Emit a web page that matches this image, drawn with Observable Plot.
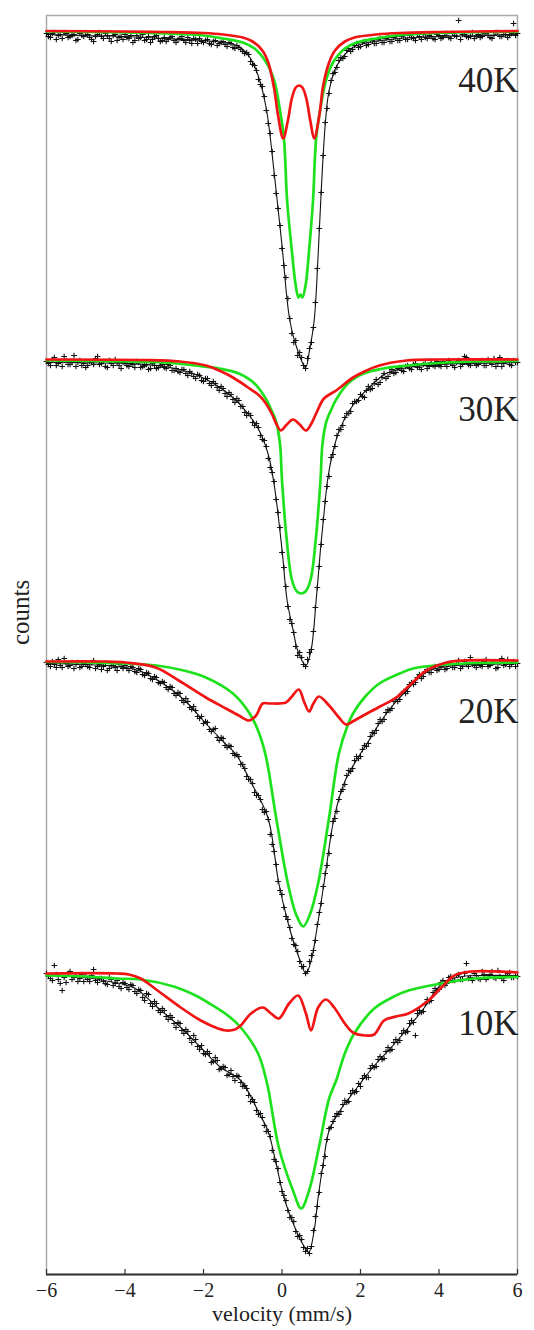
<!DOCTYPE html>
<html><head><meta charset="utf-8">
<script src="https://cdn.jsdelivr.net/npm/d3@7"></script>
<script src="https://cdn.jsdelivr.net/npm/@observablehq/plot@0.6"></script>
<style>
html,body{margin:0;padding:0;background:#fff}
#chart svg{display:block}
#chart svg, #chart svg text{font-family:'Liberation Serif','DejaVu Serif','Times New Roman',serif !important}
</style>
</head><body><div id="chart"></div>
<script>
// Temperatures and vertical offset (baseline) of each spectrum, in relative count units
const temps = ["40K", "30K", "20K", "10K"];
const baselines = [-0.15, -3.44, -6.46, -9.58];
const yBottom = -12.59;
const xTicks = [-6, -4, -2, 0, 2, 4, 6];

// velocity channels (mm/s): even channels and the interleaved odd channels
const vel = [-6.0,-5.9,-5.8,-5.7,-5.6,-5.5,-5.4,-5.3,-5.2,-5.1,
-5.0,-4.9,-4.8,-4.7,-4.6,-4.5,-4.4,-4.3,-4.2,-4.1,
-4.0,-3.9,-3.8,-3.7,-3.6,-3.5,-3.4,-3.3,-3.2,-3.1,
-3.0,-2.9,-2.8,-2.7,-2.6,-2.5,-2.4,-2.3,-2.2,-2.1,
-2.0,-1.9,-1.8,-1.7,-1.6,-1.5,-1.4,-1.3,-1.2,-1.1,
-1.0,-0.9,-0.8,-0.7,-0.6,-0.5,-0.4,-0.3,-0.2,-0.1,
0.0,0.1,0.2,0.3,0.4,0.5,0.6,0.7,0.8,0.9,
1.0,1.1,1.2,1.3,1.4,1.5,1.6,1.7,1.8,1.9,
2.0,2.1,2.2,2.3,2.4,2.5,2.6,2.7,2.8,2.9,
3.0,3.1,3.2,3.3,3.4,3.5,3.6,3.7,3.8,3.9,
4.0,4.1,4.2,4.3,4.4,4.5,4.6,4.7,4.8,4.9,
5.0,5.1,5.2,5.3,5.4,5.5,5.6,5.7,5.8,5.9,
6.0];
const velMid = [-5.95,-5.85,-5.75,-5.65,-5.55,-5.45,-5.35,-5.25,-5.15,-5.05,
-4.95,-4.85,-4.75,-4.65,-4.55,-4.45,-4.35,-4.25,-4.15,-4.05,
-3.95,-3.85,-3.75,-3.65,-3.55,-3.45,-3.35,-3.25,-3.15,-3.05,
-2.95,-2.85,-2.75,-2.65,-2.55,-2.45,-2.35,-2.25,-2.15,-2.05,
-1.95,-1.85,-1.75,-1.65,-1.55,-1.45,-1.35,-1.25,-1.15,-1.05,
-0.95,-0.85,-0.75,-0.65,-0.55,-0.45,-0.35,-0.25,-0.15,-0.05,
0.05,0.15,0.25,0.35,0.45,0.55,0.65,0.75,0.85,0.95,
1.05,1.15,1.25,1.35,1.45,1.55,1.65,1.75,1.85,1.95,
2.05,2.15,2.25,2.35,2.45,2.55,2.65,2.75,2.85,2.95,
3.05,3.15,3.25,3.35,3.45,3.55,3.65,3.75,3.85,3.95,
4.05,4.15,4.25,4.35,4.45,4.55,4.65,4.75,4.85,4.95,
5.05,5.15,5.25,5.35,5.45,5.55,5.65,5.75,5.85,5.95];

// measured absorption (depth below baseline) per channel
const counts40 = [0.03,0.07,0.02,0.05,0.08,0.03,0.06,0.04,0.09,0.05,
0.02,0.07,0.11,0.04,0.06,0.03,0.08,0.05,0.10,0.06,
0.04,0.08,0.12,0.05,0.07,0.10,0.06,0.09,0.05,0.11,
0.07,0.09,0.06,0.12,0.08,0.10,0.07,0.13,0.09,0.08,
0.12,0.09,0.14,0.10,0.13,0.11,0.16,0.13,0.18,0.17,
0.21,0.22,0.31,0.35,0.49,0.56,0.80,1.03,1.45,1.78,
2.18,2.47,2.88,3.12,3.25,3.27,3.38,3.18,2.97,2.38,
1.62,0.92,0.63,0.43,0.37,0.27,0.26,0.18,0.19,0.13,
0.16,0.11,0.14,0.10,0.13,0.08,0.12,0.07,0.11,0.06,
0.10,0.05,0.09,0.07,0.10,0.06,0.04,0.08,0.06,0.09,
0.05,0.07,0.03,0.08,0.05,-0.10,0.04,0.06,0.06,0.08,
0.04,0.06,0.03,0.07,0.05,0.02,0.06,0.04,0.05,-0.07,
0.03];
const countsMid40 = [0.06,0.03,0.09,0.04,0.02,0.07,0.05,0.10,0.03,0.06,
0.04,0.09,0.06,0.02,0.08,0.05,0.11,0.04,0.07,0.09,
0.07,0.05,0.10,0.08,0.04,0.09,0.12,0.06,0.08,0.10,
0.11,0.07,0.10,0.09,0.06,0.12,0.10,0.08,0.13,0.11,
0.10,0.13,0.11,0.15,0.12,0.14,0.12,0.17,0.15,0.19,
0.23,0.24,0.34,0.40,0.54,0.66,0.93,1.21,1.63,1.95,
2.35,2.68,3.03,3.10,3.22,3.35,3.28,3.12,2.72,1.98,
1.25,0.78,0.50,0.42,0.30,0.28,0.20,0.21,0.15,0.17,
0.12,0.15,0.10,0.13,0.09,0.12,0.08,0.11,0.07,0.10,
0.06,0.09,0.05,0.08,0.04,0.09,0.07,0.05,0.08,0.04,
0.08,0.05,0.07,0.03,0.06,0.09,0.04,0.07,0.02,0.06,
0.07,0.03,0.05,0.08,0.02,0.06,0.04,0.07,0.03,0.05];
const counts30 = [0.02,0.06,-0.02,0.04,0.07,0.01,0.05,-0.04,0.03,0.06,
0.08,0.02,0.05,-0.03,0.04,0.07,0.01,0.06,0.03,0.09,
0.03,0.07,0.05,0.02,0.08,0.06,0.10,0.04,0.09,0.06,
0.08,0.05,0.11,0.09,0.13,0.10,0.16,0.14,0.19,0.16,
0.22,0.19,0.26,0.24,0.31,0.29,0.37,0.35,0.43,0.41,
0.47,0.56,0.56,0.66,0.68,0.80,0.87,1.08,1.22,1.53,
1.93,2.27,2.60,2.73,2.96,2.98,3.07,2.93,2.72,2.28,
1.85,1.42,1.17,0.95,0.76,0.70,0.58,0.54,0.44,0.42,
0.35,0.38,0.27,0.29,0.20,0.23,0.14,0.17,0.10,0.13,
0.08,0.12,0.06,0.10,0.04,0.08,0.05,0.09,0.03,0.07,
0.06,0.02,0.07,0.04,0.08,0.01,0.05,-0.02,0.06,0.03,
0.05,0.01,0.06,0.03,-0.01,0.04,0.07,0.02,0.05,0.01,
0.03];
const countsMid30 = [0.04,0.00,0.06,0.02,-0.03,0.05,0.03,0.07,0.01,0.04,
0.06,0.03,-0.01,0.05,0.02,0.08,0.04,0.00,0.06,0.03,
0.06,0.04,0.08,0.03,0.07,0.05,0.09,0.06,0.08,0.05,
0.09,0.06,0.11,0.12,0.10,0.14,0.12,0.17,0.15,0.21,
0.19,0.24,0.22,0.28,0.27,0.34,0.33,0.40,0.39,0.47,
0.53,0.54,0.63,0.64,0.76,0.81,0.99,1.13,1.40,1.68,
2.08,2.47,2.64,2.87,2.93,3.05,3.00,2.90,2.48,2.07,
1.60,1.27,0.98,0.87,0.70,0.66,0.54,0.52,0.42,0.41,
0.37,0.31,0.30,0.24,0.25,0.18,0.19,0.13,0.14,0.09,
0.11,0.07,0.09,0.05,0.08,0.10,0.04,0.07,0.06,0.02,
0.07,0.04,0.01,0.06,0.03,0.07,-0.03,0.05,0.02,0.06,
0.02,0.06,0.00,0.05,0.07,-0.02,0.04,0.01,0.06,0.03];
const counts20 = [0.01,0.05,0.03,-0.02,0.06,0.02,0.04,0.07,0.01,0.05,
0.03,0.06,-0.01,0.05,0.08,0.02,0.07,0.04,0.09,0.05,
0.04,0.09,0.06,0.11,0.08,0.14,0.12,0.18,0.16,0.22,
0.21,0.28,0.26,0.34,0.32,0.41,0.40,0.48,0.49,0.57,
0.62,0.61,0.70,0.67,0.79,0.77,0.86,0.85,0.94,0.95,
1.03,1.15,1.18,1.31,1.34,1.48,1.50,1.73,1.90,2.20,
2.33,2.55,2.66,2.83,2.90,3.05,3.12,3.00,2.89,2.63,
2.42,2.12,1.92,1.60,1.50,1.30,1.23,1.09,1.07,0.95,
0.95,0.84,0.82,0.71,0.69,0.58,0.58,0.48,0.47,0.38,
0.38,0.30,0.30,0.21,0.21,0.13,0.15,0.08,0.11,0.05,
0.08,0.04,0.07,0.02,0.06,-0.01,0.05,0.03,-0.04,0.04,
0.02,0.05,-0.02,0.04,0.01,0.06,-0.03,0.03,0.05,0.00,
0.02];
const countsMid20 = [0.03,0.00,0.06,0.04,-0.03,0.05,0.01,0.03,0.06,0.02,
0.05,0.01,0.07,0.03,0.05,0.09,0.04,0.06,0.03,0.07,
0.07,0.05,0.10,0.07,0.13,0.11,0.17,0.15,0.21,0.20,
0.26,0.25,0.32,0.31,0.39,0.37,0.46,0.45,0.55,0.55,
0.60,0.68,0.68,0.76,0.76,0.84,0.84,0.92,0.93,1.03,
1.07,1.18,1.22,1.34,1.38,1.51,1.58,1.83,2.03,2.29,
2.46,2.58,2.77,2.84,3.00,3.05,3.10,2.94,2.79,2.51,
2.25,2.04,1.74,1.57,1.38,1.28,1.14,1.10,0.99,0.97,
0.88,0.85,0.75,0.72,0.62,0.60,0.51,0.49,0.40,0.40,
0.32,0.32,0.23,0.23,0.16,0.17,0.10,0.11,0.06,0.09,
0.05,0.08,0.03,0.06,0.02,0.07,0.00,0.05,0.03,0.06,
0.04,0.00,0.05,0.02,0.07,0.01,0.04,-0.02,0.03,0.05];
const counts10 = [0.00,0.05,-0.08,0.06,0.17,0.09,-0.02,0.04,0.08,0.01,
0.03,0.08,-0.04,0.09,0.05,0.10,0.04,0.12,0.07,0.15,
0.10,0.16,0.12,0.20,0.17,0.27,0.21,0.33,0.30,0.39,
0.37,0.46,0.44,0.54,0.50,0.60,0.58,0.69,0.66,0.76,
0.80,0.78,0.89,0.84,0.96,0.93,1.02,0.97,1.07,1.03,
1.13,1.15,1.28,1.29,1.41,1.44,1.58,1.63,1.86,1.95,
2.18,2.27,2.44,2.48,2.63,2.66,2.78,2.80,2.57,2.33,
2.00,1.83,1.55,1.48,1.40,1.38,1.27,1.28,1.17,1.18,
1.13,1.02,1.04,0.92,0.93,0.83,0.85,0.74,0.76,0.66,
0.67,0.57,0.58,0.47,0.62,0.37,0.38,0.26,0.27,0.15,
0.16,0.07,0.10,0.03,0.07,0.01,0.06,-0.10,0.04,0.00,
0.05,-0.02,0.06,0.01,0.04,-0.03,0.05,0.02,-0.01,0.04,
0.03];
const countsMid10 = [0.03,0.07,0.01,0.10,0.04,0.00,0.06,0.02,0.05,0.08,
0.06,0.02,0.07,0.05,0.08,0.11,0.06,0.10,0.13,0.09,
0.14,0.11,0.18,0.16,0.24,0.20,0.30,0.28,0.37,0.35,
0.43,0.42,0.50,0.49,0.57,0.56,0.65,0.62,0.73,0.72,
0.81,0.80,0.88,0.87,0.95,0.94,1.01,1.03,1.02,1.09,
1.12,1.22,1.26,1.37,1.40,1.52,1.58,1.77,1.88,2.09,
2.22,2.37,2.44,2.58,2.62,2.74,2.75,2.73,2.43,2.19,
1.92,1.66,1.54,1.43,1.41,1.31,1.29,1.20,1.19,1.10,
1.05,1.04,0.95,0.94,0.86,0.86,0.78,0.77,0.69,0.69,
0.60,0.59,0.50,0.49,0.40,0.39,0.30,0.28,0.19,0.17,
0.09,0.12,0.04,0.07,0.02,0.06,0.00,0.05,0.07,0.02,
0.06,0.01,0.04,-0.02,0.05,0.03,0.07,0.00,0.04,0.02];

// total fit (black), [velocity, depth]
const black40 = [[-6,0.04],[-5,0.05],[-4,0.06],[-3,0.08],[-2,0.1],[-1.5,0.12],[-1.1,0.16],[-0.8,0.28],[-0.6,0.46],[-0.4,0.78],[-0.2,1.42],[0,2.15],[0.2,2.9],[0.4,3.2],[0.6,3.37],[0.7,3.2],[0.82,2.9],[0.92,2.25],[1.0,1.6],[1.1,0.95],[1.2,0.6],[1.4,0.35],[1.8,0.17],[2.2,0.12],[3,0.08],[4,0.06],[5,0.05],[6,0.04]];
const black30 = [[-6,0.03],[-4,0.04],[-3,0.07],[-2.27,0.14],[-1.7,0.25],[-1.25,0.38],[-0.85,0.55],[-0.58,0.71],[-0.35,0.95],[-0.2,1.25],[0,1.9],[0.13,2.41],[0.28,2.7],[0.4,2.91],[0.61,3.06],[0.74,2.91],[0.87,2.41],[0.98,1.9],[1.08,1.5],[1.17,1.18],[1.3,0.92],[1.46,0.71],[1.7,0.52],[1.97,0.38],[2.3,0.25],[2.65,0.14],[3.2,0.08],[4,0.05],[6,0.03]];
const black20 = [[-6,0.02],[-5,0.03],[-4.2,0.05],[-3.65,0.09],[-3.2,0.18],[-2.78,0.29],[-2.4,0.42],[-1.94,0.62],[-1.5,0.8],[-1.17,0.93],[-0.8,1.2],[-0.36,1.56],[-0.08,2.22],[0.23,2.72],[0.45,2.98],[0.61,3.12],[0.75,2.98],[0.87,2.72],[1.07,2.22],[1.33,1.56],[1.6,1.2],[1.97,0.94],[2.2,0.8],[2.48,0.62],[2.8,0.45],[3.17,0.29],[3.5,0.16],[3.75,0.09],[4.2,0.05],[5,0.03],[6,0.02]];
const black10 = [[-6,0.02],[-5,0.04],[-4.4,0.08],[-3.78,0.14],[-3.17,0.34],[-2.58,0.54],[-2.07,0.74],[-1.56,0.94],[-1.05,1.07],[-0.58,1.4],[-0.36,1.57],[-0.15,1.9],[0.05,2.24],[0.36,2.57],[0.55,2.72],[0.68,2.79],[0.82,2.57],[0.92,2.24],[1.05,1.9],[1.2,1.57],[1.4,1.42],[1.6,1.3],[1.8,1.2],[2.09,1.05],[2.4,0.9],[2.78,0.74],[3.22,0.54],[3.63,0.34],[3.9,0.18],[4.14,0.08],[4.6,0.03],[5.2,0.02],[6,0.02]];

// first component (green)
const green40 = [[-6,0.01],[-4,0.02],[-3,0.03],[-2,0.05],[-1.5,0.08],[-1.0,0.12],[-0.7,0.18],[-0.4,0.32],[-0.2,0.5],[-0.05,0.8],[0.05,1.08],[0.13,1.7],[0.25,2.2],[0.35,2.55],[0.42,2.67],[0.47,2.64],[0.52,2.67],[0.6,2.55],[0.69,2.2],[0.79,1.7],[0.87,1.08],[0.97,0.8],[1.12,0.5],[1.3,0.32],[1.6,0.18],[1.9,0.12],[2.4,0.08],[2.9,0.05],[4,0.025],[6,0.012]];
const green30 = [[-6,0.01],[-4,0.02],[-3,0.03],[-2.2,0.06],[-1.6,0.09],[-1.1,0.14],[-0.7,0.24],[-0.4,0.4],[-0.3,0.48],[-0.15,0.62],[-0.05,0.85],[0.0,1.21],[0.12,1.8],[0.25,2.2],[0.38,2.32],[0.49,2.34],[0.6,2.32],[0.73,2.2],[0.86,1.8],[0.98,1.21],[1.03,0.85],[1.13,0.62],[1.28,0.48],[1.38,0.4],[1.68,0.24],[2.08,0.14],[2.58,0.09],[3.2,0.06],[4,0.035],[5,0.02],[6,0.015]];
const green20 = [[-6,0.005],[-5,0.01],[-4,0.02],[-3.2,0.04],[-2.5,0.09],[-1.94,0.16],[-1.25,0.32],[-0.84,0.51],[-0.6,0.7],[-0.41,0.95],[-0.15,1.56],[0.15,2.22],[0.35,2.52],[0.54,2.65],[0.72,2.52],[0.92,2.22],[1.2,1.56],[1.45,0.92],[1.68,0.63],[1.81,0.52],[2.1,0.36],[2.48,0.22],[3.0,0.12],[3.34,0.07],[4.2,0.03],[5,0.015],[6,0.01]];
const green10 = [[-6,0.02],[-5,0.03],[-4.2,0.05],[-3.6,0.06],[-2.76,0.13],[-2.2,0.22],[-1.89,0.29],[-1.38,0.42],[-1.05,0.54],[-0.61,0.8],[-0.38,1.1],[-0.08,1.74],[0.28,2.17],[0.49,2.35],[0.69,2.17],[0.94,1.74],[1.2,1.25],[1.38,1.07],[1.6,0.8],[1.84,0.6],[2.35,0.35],[2.8,0.24],[3.22,0.17],[4.06,0.1],[4.9,0.05],[6,0.035]];

// second component (red)
const red40 = [[-6,0.005],[-4,0.01],[-3,0.015],[-2,0.025],[-1.5,0.04],[-1.0,0.07],[-0.75,0.11],[-0.5,0.2],[-0.35,0.32],[-0.2,0.58],[-0.1,0.85],[0.03,1.08],[0.15,0.9],[0.25,0.68],[0.35,0.57],[0.43,0.55],[0.52,0.57],[0.62,0.68],[0.72,0.9],[0.82,1.08],[0.95,0.85],[1.05,0.55],[1.2,0.32],[1.35,0.2],[1.6,0.11],[1.85,0.07],[2.4,0.04],[3,0.025],[4,0.015],[6,0.005]];
const red30 = [[-6,0],[-3.5,0.005],[-2.6,0.02],[-1.94,0.06],[-1.6,0.11],[-1.25,0.18],[-0.9,0.27],[-0.58,0.36],[-0.41,0.44],[-0.25,0.55],[-0.15,0.64],[-0.03,0.71],[0.1,0.66],[0.28,0.6],[0.45,0.65],[0.61,0.71],[0.75,0.64],[0.87,0.54],[1.07,0.39],[1.38,0.31],[1.81,0.18],[2.1,0.12],[2.48,0.06],[3.17,0.01],[4,0],[6,0]];
const red20 = [[-6,0],[-4.5,0],[-3.98,0.01],[-3.22,0.06],[-2.63,0.19],[-1.94,0.36],[-1.43,0.47],[-1.1,0.54],[-0.84,0.59],[-0.66,0.54],[-0.49,0.42],[-0.3,0.42],[0.1,0.41],[0.23,0.36],[0.43,0.28],[0.56,0.4],[0.69,0.5],[0.8,0.42],[0.94,0.35],[1.2,0.44],[1.45,0.56],[1.63,0.63],[1.8,0.6],[2.07,0.54],[2.5,0.45],[2.91,0.36],[3.3,0.22],[3.68,0.09],[4.19,0.01],[4.6,-0.01],[6,-0.01]];
const red10 = [[-6,0],[-4.2,0],[-3.9,0.01],[-3.6,0.05],[-3.17,0.17],[-2.58,0.34],[-2.07,0.47],[-1.63,0.55],[-1.43,0.57],[-1.2,0.56],[-1.05,0.52],[-0.79,0.4],[-0.49,0.34],[-0.28,0.4],[-0.08,0.45],[0.18,0.3],[0.41,0.22],[0.61,0.4],[0.74,0.57],[0.92,0.34],[1.12,0.26],[1.33,0.34],[1.6,0.5],[1.81,0.59],[2.14,0.62],[2.35,0.61],[2.6,0.47],[2.9,0.43],[3.22,0.4],[3.73,0.27],[4.06,0.14],[4.39,0.02],[4.8,-0.02],[6,-0.01]];

// ---- build tables ----
const countsAll = [counts40, counts30, counts20, counts10];
const countsMidAll = [countsMid40, countsMid30, countsMid20, countsMid10];
const blackAll = [black40, black30, black20, black10];
const greenAll = [green40, green30, green20, green10];
const redAll = [red40, red30, red20, red10];

const points = [];
temps.forEach((t, i) => {
  vel.forEach((v, j) => points.push({t, v, y: baselines[i] - countsAll[i][j]}));
  velMid.forEach((v, j) => points.push({t, v, y: baselines[i] - countsMidAll[i][j]}));
});
const toRows = (all) => all.flatMap((arr, i) => arr.map(([v, d]) => ({t: temps[i], v, y: baselines[i] - d})));
const blackRows = toRows(blackAll);
const greenRows = toRows(greenAll);
const redRows = toRows(redAll);
const labelRows = temps.map((t, i) => ({t, v: 6, y: baselines[i] - 0.5}));

const serif = "Liberation Serif";

const chart = Plot.plot({
  width: 534,
  height: 1330,
  marginLeft: 46,
  marginRight: 17,
  marginTop: 15,
  marginBottom: 56,
  style: "background:#fff;color:#222;font-family:'Liberation Serif',serif;",
  x: {domain: [-6, 6], label: null},
  y: {domain: [yBottom, 0], axis: null},
  marks: [
    Plot.frame({stroke: "#aaa", strokeWidth: 1.5}),
    Plot.dot(points, {x: "v", y: "y", symbol: "plus", r: 2.0, stroke: "#111", strokeWidth: 1.1}),
    Plot.line(blackRows, {x: "v", y: "y", z: "t", stroke: "#111", strokeWidth: 1.1, curve: "catmull-rom"}),
    Plot.line(greenRows, {x: "v", y: "y", z: "t", stroke: "#1ee11e", strokeWidth: 2.7, curve: "catmull-rom"}),
    Plot.line(redRows, {x: "v", y: "y", z: "t", stroke: "#f01414", strokeWidth: 2.7, curve: "catmull-rom"}),
    Plot.text(labelRows, {x: "v", y: "y", text: "t", textAnchor: "end", fontSize: 35, fontFamily: serif, fill: "#222", dx: 1}),
    Plot.ruleY([yBottom], {stroke: "#333", strokeWidth: 2.2}),
    Plot.ruleX(xTicks, {y1: yBottom, y2: yBottom + 0.05, stroke: "#333", strokeWidth: 1.2}),
    Plot.axisX({ticks: xTicks, tickSize: 0, tickPadding: 8, fontSize: 20, fontFamily: serif, label: null, fill: "#222"}),
    Plot.text(["velocity (mm/s)"], {frameAnchor: "bottom", dy: 46, fontSize: 22, fontFamily: serif, fill: "#222", text: d => d, letterSpacing: "1.5px"}),
    Plot.text(["counts"], {frameAnchor: "left", dx: -26, rotate: -90, fontSize: 25, fontFamily: serif, fill: "#222", text: d => d})
  ]
});
document.getElementById("chart").append(chart);
</script>
</body></html>
